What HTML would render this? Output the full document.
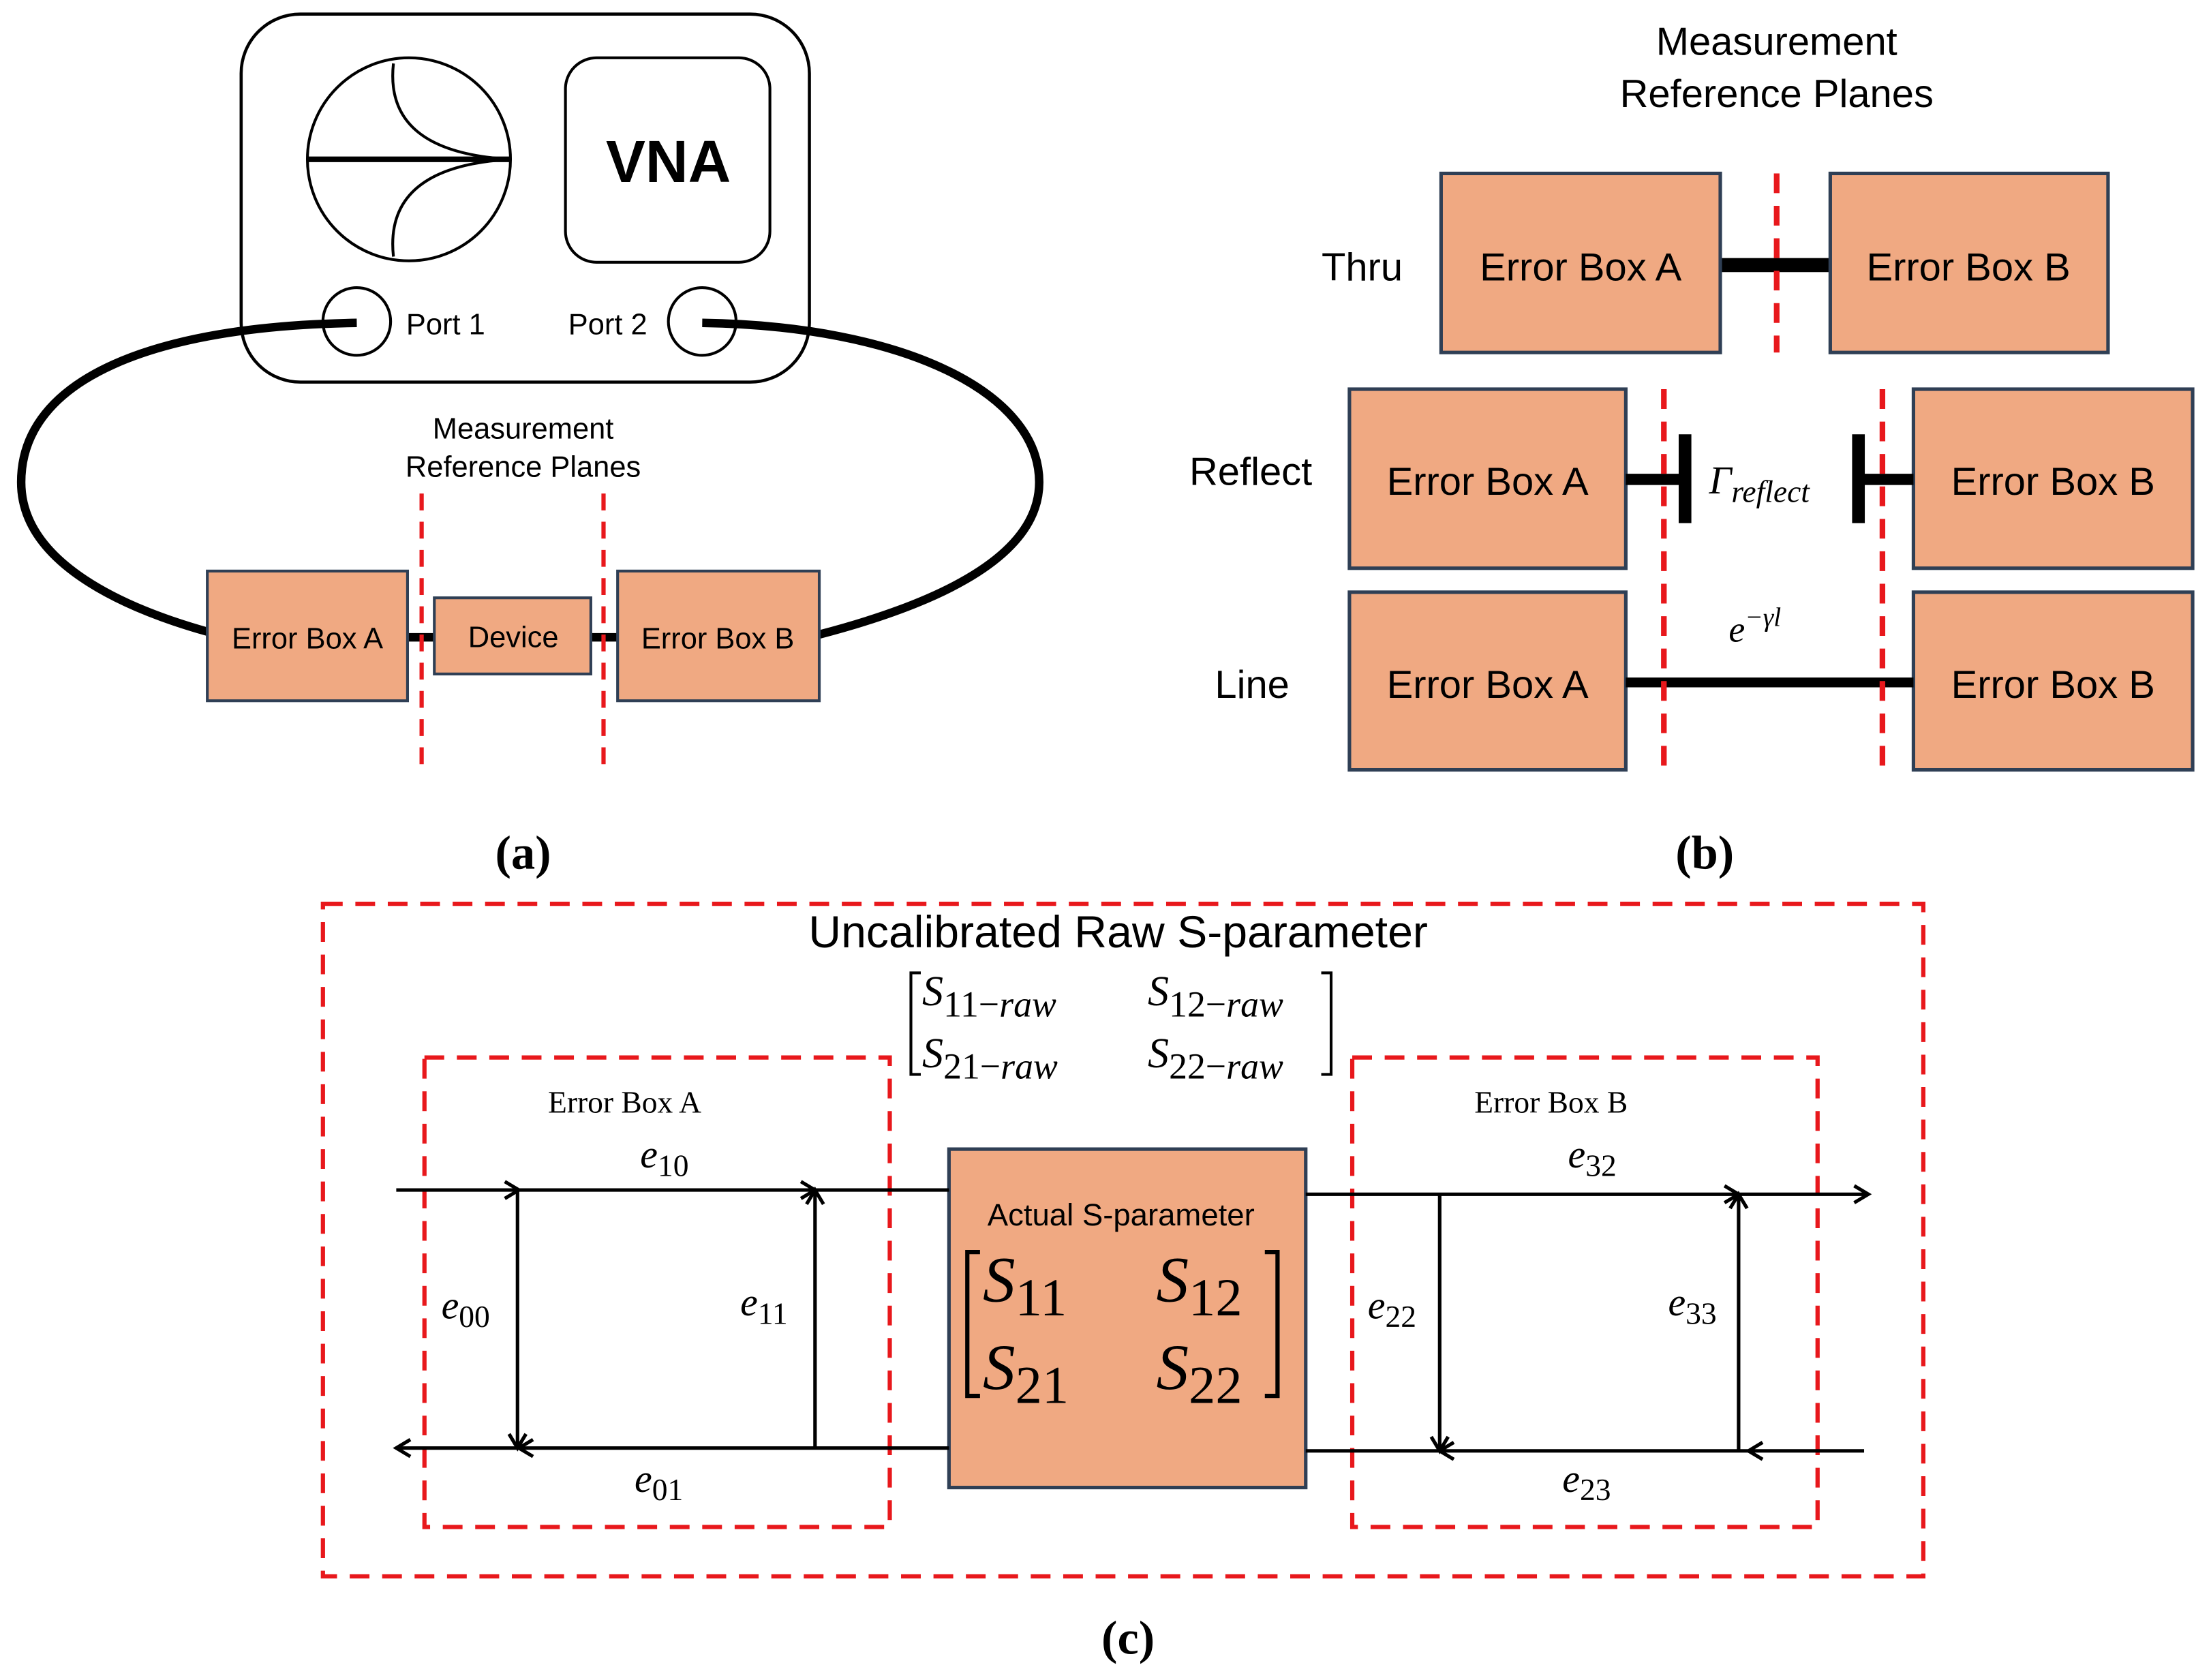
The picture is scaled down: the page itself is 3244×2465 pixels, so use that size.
<!DOCTYPE html>
<html><head><style>html,body{margin:0;padding:0;background:#fff}svg{display:block}.u{font-style:normal}</style></head>
<body>
<svg width="3244" height="2465" viewBox="0 0 1568 1191.5" xmlns="http://www.w3.org/2000/svg" font-family="Liberation Sans, DejaVu Sans, sans-serif">
<defs>
<marker id="ar" markerWidth="16" markerHeight="16" refX="12" refY="8" orient="auto" markerUnits="userSpaceOnUse">
<path d="M2,2 L12,8 L2,14" fill="none" stroke="#000" stroke-width="2.5"/>
</marker>
</defs>
<rect width="1568" height="1192" fill="#fff"/>
<!-- (a) -->
<rect x="171" y="10" width="403" height="261" rx="42" fill="none" stroke="#000" stroke-width="2.2"/>
<ellipse cx="290" cy="113" rx="72" ry="72" fill="none" stroke="#000" stroke-width="2"/>
<line x1="218" y1="113" x2="362" y2="113" stroke="#000" stroke-width="4"/>
<path d="M279 45 Q272 108 362 113 M279 182 Q272 118 362 113" fill="none" stroke="#000" stroke-width="2"/>
<rect x="401" y="41" width="145" height="145" rx="22" fill="none" stroke="#000" stroke-width="2"/>
<text x="474" y="129" font-size="42" font-weight="bold" text-anchor="middle">VNA</text>
<circle cx="253" cy="228" r="24" fill="none" stroke="#000" stroke-width="2"/>
<circle cx="498" cy="228" r="24" fill="none" stroke="#000" stroke-width="2"/>
<text x="288" y="237" font-size="21">Port 1</text>
<text x="403" y="237" font-size="21">Port 2</text>
<path d="M253 229 C110 231 15 268 15 342 C15 400 90 432 147 448" fill="none" stroke="#000" stroke-width="6"/>
<path d="M498 229 C640 231 737 278 737 342 C737 400 650 432 581 450" fill="none" stroke="#000" stroke-width="6"/>
<text x="371" y="311" font-size="21" text-anchor="middle">Measurement</text>
<text x="371" y="338" font-size="21" text-anchor="middle">Reference Planes</text>
<line x1="289" y1="452" x2="438" y2="452" stroke="#000" stroke-width="6"/>
<rect x="147" y="405" width="142" height="92" fill="#F0A982" stroke="#2f3f55" stroke-width="2"/>
<rect x="308" y="424" width="111" height="54" fill="#F0A982" stroke="#2f3f55" stroke-width="2"/>
<rect x="438" y="405" width="143" height="92" fill="#F0A982" stroke="#2f3f55" stroke-width="2"/>
<text x="218" y="460" font-size="21" text-anchor="middle">Error Box A</text>
<text x="364" y="459" font-size="21" text-anchor="middle">Device</text>
<text x="509" y="460" font-size="21" text-anchor="middle">Error Box B</text>
<g stroke="#e8181c" stroke-width="3" stroke-dasharray="12,8">
<line x1="299" y1="350" x2="299" y2="548"/><line x1="428" y1="350" x2="428" y2="548"/>
</g>
<text x="371" y="616" font-size="34" font-weight="bold" font-family="Liberation Serif, serif" text-anchor="middle">(a)</text>
<!-- (b) -->
<text x="1260" y="39" font-size="28" text-anchor="middle">Measurement</text>
<text x="1260" y="76" font-size="28" text-anchor="middle">Reference Planes</text>
<text x="966" y="199" font-size="28" text-anchor="middle">Thru</text>
<text x="887" y="344" font-size="28" text-anchor="middle">Reflect</text>
<text x="888" y="495" font-size="28" text-anchor="middle">Line</text>
<line x1="1220" y1="188" x2="1298" y2="188" stroke="#000" stroke-width="10"/>
<g fill="#F0A982" stroke="#2f3f55" stroke-width="2.5">
<rect x="1022" y="123" width="198" height="127"/><rect x="1298" y="123" width="197" height="127"/>
<rect x="957" y="276" width="196" height="127"/><rect x="1357" y="276" width="198" height="127"/>
<rect x="957" y="420" width="196" height="126"/><rect x="1357" y="420" width="198" height="126"/>
</g>
<g font-size="28" text-anchor="middle">
<text x="1121" y="199">Error Box A</text><text x="1396" y="199">Error Box B</text>
<text x="1055" y="351">Error Box A</text><text x="1456" y="351">Error Box B</text>
<text x="1055" y="495">Error Box A</text><text x="1456" y="495">Error Box B</text>
</g>
<line x1="1153" y1="340" x2="1195" y2="340" stroke="#000" stroke-width="8"/>
<line x1="1195" y1="308" x2="1195" y2="371" stroke="#000" stroke-width="9"/>
<line x1="1318" y1="340" x2="1357" y2="340" stroke="#000" stroke-width="8"/>
<line x1="1318" y1="308" x2="1318" y2="371" stroke="#000" stroke-width="9"/>
<text x="1212" y="350" font-size="28" font-style="italic" font-family="Liberation Serif, serif">Γ<tspan font-size="22" dy="6">reflect</tspan></text>
<line x1="1153" y1="484" x2="1357" y2="484" stroke="#000" stroke-width="7"/>
<text x="1226" y="455" font-size="26" font-style="italic" font-family="Liberation Serif, serif">e<tspan font-size="19" dy="-11">−γl</tspan></text>
<g stroke="#e8181c" stroke-width="4" stroke-dasharray="14,9">
<line x1="1260" y1="123" x2="1260" y2="250"/>
<line x1="1180" y1="276" x2="1180" y2="548"/><line x1="1335" y1="276" x2="1335" y2="548"/>
</g>
<text x="1209" y="616" font-size="34" font-weight="bold" font-family="Liberation Serif, serif" text-anchor="middle">(b)</text>
<!-- (c) -->
<g fill="none" stroke="#e8181c" stroke-width="3" stroke-dasharray="14,9">
<rect x="229" y="641" width="1135" height="477"/>
<rect x="301" y="750" width="330" height="333"/>
<rect x="959" y="750" width="330" height="333"/>
</g>
<text x="793" y="672" font-size="32" text-anchor="middle">Uncalibrated Raw S-parameter</text>
<g font-family="Liberation Serif, serif" font-style="italic" font-size="30">
<text x="654" y="713">S<tspan font-size="26" dy="8"><tspan class="u">11−</tspan>raw</tspan></text>
<text x="814" y="713">S<tspan font-size="26" dy="8"><tspan class="u">12−</tspan>raw</tspan></text>
<text x="654" y="757">S<tspan font-size="26" dy="8"><tspan class="u">21−</tspan>raw</tspan></text>
<text x="814" y="757">S<tspan font-size="26" dy="8"><tspan class="u">22−</tspan>raw</tspan></text>
</g>
<path d="M653 690 H646 V762 H653 M937 690 H944 V762 H937" fill="none" stroke="#000" stroke-width="2"/>
<text x="443" y="789" font-size="22" font-family="Liberation Serif, serif" text-anchor="middle">Error Box A</text>
<text x="1100" y="789" font-size="22" font-family="Liberation Serif, serif" text-anchor="middle">Error Box B</text>
<rect x="673" y="815" width="253" height="240" fill="#F0A982" stroke="#2f3f55" stroke-width="2.5"/>
<text x="795" y="869" font-size="22" text-anchor="middle">Actual S-parameter</text>
<g font-family="Liberation Serif, serif" font-style="italic" font-size="46">
<text x="697" y="923">S<tspan class="u" font-size="38" dy="10">11</tspan></text>
<text x="820" y="923">S<tspan class="u" font-size="38" dy="10">12</tspan></text>
<text x="697" y="985">S<tspan class="u" font-size="38" dy="10">21</tspan></text>
<text x="820" y="985">S<tspan class="u" font-size="38" dy="10">22</tspan></text>
</g>
<path d="M695 888 H686 V990 H695 M897 888 H906 V990 H897" fill="none" stroke="#000" stroke-width="3"/>
<g stroke="#000" stroke-width="2.5" fill="none">
<line x1="281" y1="844" x2="368" y2="844" marker-end="url(#ar)"/>
<line x1="368" y1="844" x2="578" y2="844" marker-end="url(#ar)"/>
<line x1="578" y1="844" x2="673" y2="844"/>
<line x1="367" y1="844" x2="367" y2="1027" marker-end="url(#ar)"/>
<line x1="578" y1="1027" x2="578" y2="844" marker-end="url(#ar)"/>
<line x1="673" y1="1027" x2="368" y2="1027" marker-end="url(#ar)"/>
<line x1="368" y1="1027" x2="281" y2="1027" marker-end="url(#ar)"/>
<line x1="926" y1="847" x2="1233" y2="847" marker-end="url(#ar)"/>
<line x1="1233" y1="847" x2="1325" y2="847" marker-end="url(#ar)"/>
<line x1="1021" y1="847" x2="1021" y2="1029" marker-end="url(#ar)"/>
<line x1="1233" y1="1029" x2="1233" y2="847" marker-end="url(#ar)"/>
<line x1="1322" y1="1029" x2="1240" y2="1029" marker-end="url(#ar)"/>
<line x1="1240" y1="1029" x2="1021" y2="1029" marker-end="url(#ar)"/>
<line x1="1021" y1="1029" x2="926" y2="1029"/>
</g>
<g font-family="Liberation Serif, serif" font-style="italic" font-size="28">
<text x="454" y="828">e<tspan class="u" font-size="22" dy="6">10</tspan></text>
<text x="313" y="935">e<tspan class="u" font-size="22" dy="6">00</tspan></text>
<text x="525" y="933">e<tspan class="u" font-size="22" dy="6">11</tspan></text>
<text x="450" y="1058">e<tspan class="u" font-size="22" dy="6">01</tspan></text>
<text x="1112" y="828">e<tspan class="u" font-size="22" dy="6">32</tspan></text>
<text x="970" y="935">e<tspan class="u" font-size="22" dy="6">22</tspan></text>
<text x="1183" y="933">e<tspan class="u" font-size="22" dy="6">33</tspan></text>
<text x="1108" y="1058">e<tspan class="u" font-size="22" dy="6">23</tspan></text>
</g>
<text x="800" y="1173" font-size="34" font-weight="bold" font-family="Liberation Serif, serif" text-anchor="middle">(c)</text>
</svg>
</body></html>
